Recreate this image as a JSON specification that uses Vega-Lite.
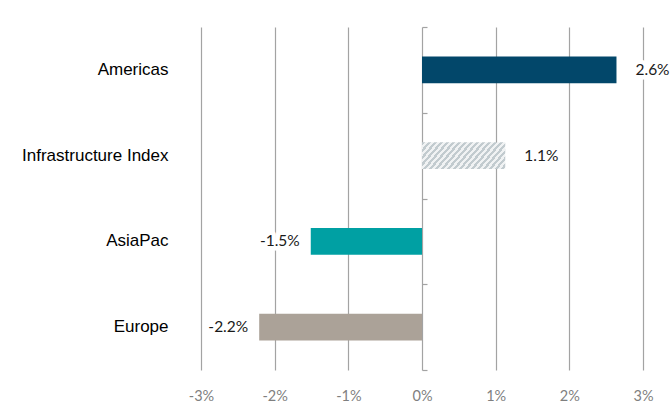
{
  "$schema": "https://vega.github.io/schema/vega-lite/v6.json",
  "width": 442,
  "height": 343,
  "autosize": {"type": "none"},
  "padding": {"left": 201, "top": 27, "right": 29, "bottom": 36},
  "background": "white",
  "config": {"view": {"stroke": null}},
  "data": {
    "values": [
      {"region": "Americas", "value": 2.64, "label": "2.6%"},
      {"region": "Infrastructure Index", "value": 1.13, "label": "1.1%"},
      {"region": "AsiaPac", "value": -1.51, "label": "-1.5%"},
      {"region": "Europe", "value": -2.21, "label": "-2.2%"}
    ]
  },
  "encoding": {
    "x": {
      "field": "value",
      "type": "quantitative",
      "scale": {"domain": [-3, 3], "nice": false, "zero": true},
      "axis": {
        "values": [-3, -2, -1, 0, 1, 2, 3],
        "labelExpr": "datum.value + '%'",
        "labelFlush": false,
        "grid": true,
        "gridColor": "#a3a3a3",
        "gridWidth": 1.2,
        "domain": false,
        "ticks": false,
        "labelColor": "#7f7f7f",
        "labelFont": "Lato",
        "labelFontSize": 14.5,
        "labelPadding": 19,
        "title": null
      }
    }
  },
  "layer": [
    {
      "transform": [{"filter": "datum.region !== 'Infrastructure Index'"}],
      "mark": {"type": "bar", "height": {"band": 0.31}},
      "encoding": {
        "y": {
          "field": "region",
          "type": "nominal",
          "sort": ["Americas", "Infrastructure Index", "AsiaPac", "Europe"],
          "scale": {"paddingInner": 0, "paddingOuter": 0},
          "axis": {
            "orient": "left",
            "domain": false,
            "ticks": false,
            "labelPadding": 33,
            "labelFont": "Liberation Sans",
            "labelFontSize": 17,
            "labelColor": "#000000",
            "title": null
          }
        },
        "color": {
          "field": "region",
          "type": "nominal",
          "scale": {
            "domain": ["Americas", "AsiaPac", "Europe"],
            "range": ["#02476a", "#00a0a3", "#aba298"]
          },
          "legend": null
        }
      }
    },
    {
      "transform": [{"filter": "datum.region === 'Infrastructure Index'"}],
      "mark": {
        "type": "bar",
        "height": {"band": 0.31},
        "fill": {
          "gradient": "linear",
          "x1": 0, "y1": 0, "x2": 1.2, "y2": 0.333,
          "stops": [
            {"offset": 0.0, "color": "#c2cbcf"}, {"offset": 0.0278, "color": "#c2cbcf"}, {"offset": 0.0278, "color": "#f0f2f3"}, {"offset": 0.0556, "color": "#f0f2f3"},
            {"offset": 0.0556, "color": "#c2cbcf"}, {"offset": 0.0833, "color": "#c2cbcf"}, {"offset": 0.0833, "color": "#f0f2f3"}, {"offset": 0.1111, "color": "#f0f2f3"},
            {"offset": 0.1111, "color": "#c2cbcf"}, {"offset": 0.1389, "color": "#c2cbcf"}, {"offset": 0.1389, "color": "#f0f2f3"}, {"offset": 0.1667, "color": "#f0f2f3"},
            {"offset": 0.1667, "color": "#c2cbcf"}, {"offset": 0.1944, "color": "#c2cbcf"}, {"offset": 0.1944, "color": "#f0f2f3"}, {"offset": 0.2222, "color": "#f0f2f3"},
            {"offset": 0.2222, "color": "#c2cbcf"}, {"offset": 0.25, "color": "#c2cbcf"}, {"offset": 0.25, "color": "#f0f2f3"}, {"offset": 0.2778, "color": "#f0f2f3"},
            {"offset": 0.2778, "color": "#c2cbcf"}, {"offset": 0.3056, "color": "#c2cbcf"}, {"offset": 0.3056, "color": "#f0f2f3"}, {"offset": 0.3333, "color": "#f0f2f3"},
            {"offset": 0.3333, "color": "#c2cbcf"}, {"offset": 0.3611, "color": "#c2cbcf"}, {"offset": 0.3611, "color": "#f0f2f3"}, {"offset": 0.3889, "color": "#f0f2f3"},
            {"offset": 0.3889, "color": "#c2cbcf"}, {"offset": 0.4167, "color": "#c2cbcf"}, {"offset": 0.4167, "color": "#f0f2f3"}, {"offset": 0.4444, "color": "#f0f2f3"},
            {"offset": 0.4444, "color": "#c2cbcf"}, {"offset": 0.4722, "color": "#c2cbcf"}, {"offset": 0.4722, "color": "#f0f2f3"}, {"offset": 0.5, "color": "#f0f2f3"},
            {"offset": 0.5, "color": "#c2cbcf"}, {"offset": 0.5278, "color": "#c2cbcf"}, {"offset": 0.5278, "color": "#f0f2f3"}, {"offset": 0.5556, "color": "#f0f2f3"},
            {"offset": 0.5556, "color": "#c2cbcf"}, {"offset": 0.5833, "color": "#c2cbcf"}, {"offset": 0.5833, "color": "#f0f2f3"}, {"offset": 0.6111, "color": "#f0f2f3"},
            {"offset": 0.6111, "color": "#c2cbcf"}, {"offset": 0.6389, "color": "#c2cbcf"}, {"offset": 0.6389, "color": "#f0f2f3"}, {"offset": 0.6667, "color": "#f0f2f3"},
            {"offset": 0.6667, "color": "#c2cbcf"}, {"offset": 0.6944, "color": "#c2cbcf"}, {"offset": 0.6944, "color": "#f0f2f3"}, {"offset": 0.7222, "color": "#f0f2f3"},
            {"offset": 0.7222, "color": "#c2cbcf"}, {"offset": 0.75, "color": "#c2cbcf"}, {"offset": 0.75, "color": "#f0f2f3"}, {"offset": 0.7778, "color": "#f0f2f3"},
            {"offset": 0.7778, "color": "#c2cbcf"}, {"offset": 0.8056, "color": "#c2cbcf"}, {"offset": 0.8056, "color": "#f0f2f3"}, {"offset": 0.8333, "color": "#f0f2f3"},
            {"offset": 0.8333, "color": "#c2cbcf"}, {"offset": 0.8611, "color": "#c2cbcf"}, {"offset": 0.8611, "color": "#f0f2f3"}, {"offset": 0.8889, "color": "#f0f2f3"},
            {"offset": 0.8889, "color": "#c2cbcf"}, {"offset": 0.9167, "color": "#c2cbcf"}, {"offset": 0.9167, "color": "#f0f2f3"}, {"offset": 0.9444, "color": "#f0f2f3"},
            {"offset": 0.9444, "color": "#c2cbcf"}, {"offset": 0.9722, "color": "#c2cbcf"}, {"offset": 0.9722, "color": "#f0f2f3"}, {"offset": 1.0, "color": "#f0f2f3"}
          ]
        }
      },
      "encoding": {
        "y": {
          "field": "region",
          "type": "nominal",
          "sort": ["Americas", "Infrastructure Index", "AsiaPac", "Europe"],
          "axis": {
            "offset": -221,
            "labels": false,
            "domain": false,
            "ticks": true,
            "tickBand": "extent",
            "tickSize": 5,
            "tickColor": "#a3a3a3",
            "tickWidth": 1.2,
            "grid": false,
            "title": null
          }
        }
      }
    },
    {
      "transform": [{"filter": "datum.value > 0"}],
      "layer": [
        {
          "mark": {"type": "text", "align": "left", "dx": 19, "font": "Lato", "fontSize": 15.5, "stroke": "white", "strokeWidth": 9, "strokeJoin": "round", "fill": "white"},
          "encoding": {
            "y": {"field": "region", "type": "nominal", "sort": ["Americas", "Infrastructure Index", "AsiaPac", "Europe"], "axis": null},
            "text": {"field": "label"}
          }
        },
        {
          "mark": {"type": "text", "align": "left", "dx": 19, "font": "Lato", "fontSize": 15.5, "fill": "#1a1a1a"},
          "encoding": {
            "y": {"field": "region", "type": "nominal", "sort": ["Americas", "Infrastructure Index", "AsiaPac", "Europe"], "axis": null},
            "text": {"field": "label"}
          }
        }
      ]
    },
    {
      "transform": [{"filter": "datum.value < 0"}],
      "layer": [
        {
          "mark": {"type": "text", "align": "right", "dx": -11, "font": "Lato", "fontSize": 15.5, "stroke": "white", "strokeWidth": 9, "strokeJoin": "round", "fill": "white"},
          "encoding": {
            "y": {"field": "region", "type": "nominal", "sort": ["Americas", "Infrastructure Index", "AsiaPac", "Europe"], "axis": null},
            "text": {"field": "label"}
          }
        },
        {
          "mark": {"type": "text", "align": "right", "dx": -11, "font": "Lato", "fontSize": 15.5, "fill": "#1a1a1a"},
          "encoding": {
            "y": {"field": "region", "type": "nominal", "sort": ["Americas", "Infrastructure Index", "AsiaPac", "Europe"], "axis": null},
            "text": {"field": "label"}
          }
        }
      ]
    }
  ],
  "resolve": {"axis": {"y": "independent"}}
}
